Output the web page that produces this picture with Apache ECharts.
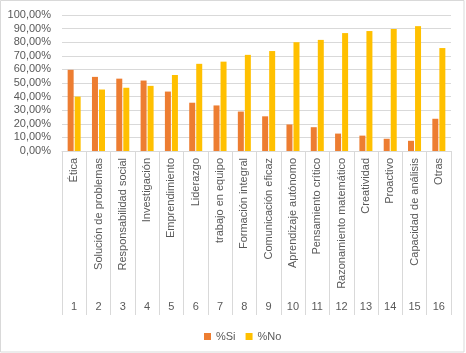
<!DOCTYPE html>
<html>
<head>
<meta charset="utf-8">
<script src="https://cdn.jsdelivr.net/npm/echarts@6/dist/echarts.min.js"></script>
<style>
  html, body { margin: 0; padding: 0; background: #fff; }
  #chart { width: 466px; height: 353px; }
</style>
</head>
<body>
<div id="chart"></div>
<script>
// competencias
var categories = ['Ética', 'Solución de problemas', 'Responsabilidad social', 'Investigación',
  'Emprendimiento', 'Liderazgo', 'trabajo en equipo', 'Formación integral',
  'Comunicación eficaz', 'Aprendizaje autónomo', 'Pensamiento crítico',
  'Razonamiento matemático', 'Creatividad', 'Proactivo', 'Capacidad de análisis', 'Otras']
var numbers = ['1', '2', '3', '4', '5', '6', '7', '8', '9', '10', '11', '12', '13', '14', '15', '16']
var si = [0.597, 0.545, 0.532, 0.518, 0.437, 0.355, 0.335, 0.29, 0.255, 0.195, 0.175, 0.128, 0.113, 0.09, 0.075, 0.237]
var no = [0.40, 0.452, 0.465, 0.479, 0.559, 0.641, 0.657, 0.707, 0.735, 0.8, 0.817, 0.867, 0.882, 0.897, 0.918, 0.757]

var gray = '#595959'
var lineColor = '#d9d9d9'
var font = 'Liberation Sans, Arial, sans-serif'

function pct(v) {
  return (v * 100).toFixed(2).replace('.', ',') + '%'
}

var chart = echarts.init(document.getElementById('chart'))
chart.setOption({
  backgroundColor: '#fff',
  animation: false,
  grid: { left: 62, right: 15, top: 15, bottom: 202, containLabel: false },
  legend: {
    data: ['%Si', '%No'],
    top: 326,
    left: 199,
    itemWidth: 7,
    itemHeight: 7,
    itemGap: 10,
    icon: 'rect',
    textStyle: { color: gray, fontSize: 11, fontFamily: font }
  },
  xAxis: [
    {
      type: 'category',
      data: categories,
      axisLine: { lineStyle: { color: lineColor } },
      axisTick: { show: true, length: 164, lineStyle: { color: lineColor } },
      axisLabel: {
        rotate: 90,
        interval: 0,
        margin: 7,
        color: gray,
        fontSize: 11,
        fontFamily: font
      }
    },
    {
      type: 'category',
      data: numbers,
      position: 'bottom',
      offset: 142,
      axisLine: { show: false },
      axisTick: { show: false },
      axisLabel: { interval: 0, margin: 8, color: gray, fontSize: 11, fontFamily: font }
    }
  ],
  yAxis: {
    type: 'value',
    min: 0,
    max: 1,
    interval: 0.1,
    axisLine: { show: false },
    axisTick: { show: false },
    splitLine: { lineStyle: { color: lineColor } },
    axisLabel: {
      margin: 11,
      color: gray,
      fontSize: 11,
      fontFamily: font,
      formatter: pct
    }
  },
  series: [
    {
      name: '%Si',
      type: 'bar',
      data: si,
      barWidth: 6,
      barGap: '17%',
      itemStyle: { color: '#ED7D31' }
    },
    {
      name: '%No',
      type: 'bar',
      data: no,
      barWidth: 6,
      itemStyle: { color: '#FFC000' }
    }
  ],
  graphic: [
    {
      type: 'rect',
      shape: { x: 0.5, y: 0.5, width: 463.5, height: 351.5 },
      style: { fill: 'none', stroke: lineColor, lineWidth: 1 },
      silent: true
    }
  ]
})
</script>
</body>
</html>
